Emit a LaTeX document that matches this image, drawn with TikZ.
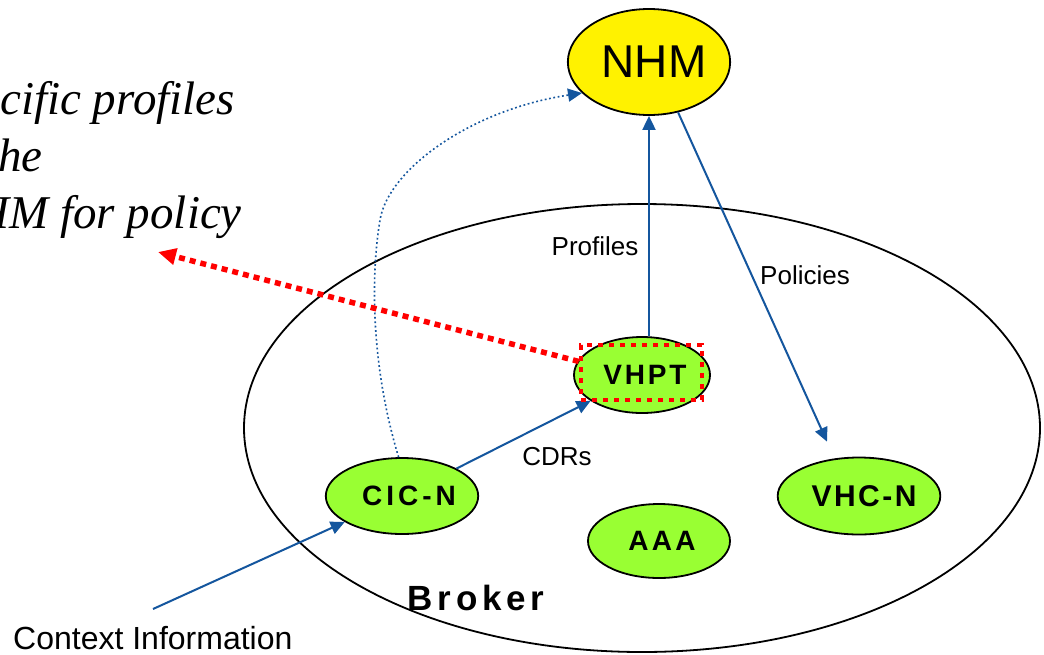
\documentclass[tikz,border=0pt]{standalone}
\usepackage{fontspec}
\setmainfont{Liberation Serif}
\setsansfont{Liberation Sans}
\usetikzlibrary{shapes.geometric,arrows.meta}
\definecolor{linkblue}{RGB}{20,86,158}
\definecolor{nodegreen}{RGB}{153,255,51}
% tracked capitals for the entity names
\newcommand\trk[1]{\kern#1}
\begin{document}
\begin{tikzpicture}[x=1pt,y=-1pt,
  entity/.style={ellipse, draw=black, line width=1.8pt, fill=nodegreen, inner sep=0pt},
  boldlbl/.style={font=\sffamily\bfseries\fontsize{28}{32}\selectfont},
  flow/.style={draw=linkblue, line width=2pt, -{Triangle[length=14pt,width=13pt]}},
  flowdotted/.style={flow, line width=1.6pt, dash pattern=on 1.8pt off 2.6pt},
  edgelbl/.style={font=\sffamily\fontsize{26}{30}\selectfont, anchor=base, inner sep=0pt},
  note/.style={font=\itshape\fontsize{47}{56}\selectfont, anchor=base east, inner sep=0pt},
  hint/.style={draw=red, line width=5.5pt, dash pattern=on 6pt off 5pt,
               -{Triangle[length=18pt,width=16pt,fill=red]}},
  hintbox/.style={draw=red, line width=4.5pt, dash pattern=on 5pt off 6pt,
                  inner sep=0pt, minimum width=121pt, minimum height=55pt}]
\path[use as bounding box, clip] (0,0) rectangle (1044,654);
\fill[white] (0,0) rectangle (1044,654);

% broker domain
\node[ellipse, draw=black, line width=1.8pt, inner sep=0pt,
      minimum width=796pt, minimum height=448pt] (broker) at (642,428) {};
\node[font=\sffamily\bfseries\fontsize{35}{40}\selectfont, anchor=base, inner sep=0pt]
  (brokerlbl) at (476,610) {B\trk{4.8pt}r\trk{4.8pt}o\trk{4.8pt}k\trk{4.8pt}e\trk{4.8pt}r};

% entities
\node[entity, fill=yellow, minimum width=152pt, minimum height=106pt,
      font=\sffamily\fontsize{46}{50}\selectfont] (NHM) at (649,62) {\hspace*{10pt}NHM};
\node[entity, minimum width=136pt, minimum height=76pt, boldlbl] (VHPT) at (642,375)
  {\hspace*{6pt}V\trk{2.8pt}H\trk{2.8pt}P\trk{2.8pt}T};
\node[entity, minimum width=137pt, minimum height=76pt, boldlbl] (CICN) at (402,496)
  {\hspace*{14pt}C\trk{4pt}I\trk{4pt}C\trk{4pt}-\trk{4pt}N};
\node[entity, minimum width=142pt, minimum height=74pt, boldlbl] (AAA) at (659,541)
  {\hspace*{6pt}A\trk{3.2pt}A\trk{3.2pt}A};
\node[entity, minimum width=122pt, minimum height=77pt,
      font=\sffamily\bfseries\fontsize{30}{34}\selectfont] (VHCN) at (859,496)
  {\hspace*{10pt}V\trk{2.5pt}H\trk{2.5pt}C\trk{2.5pt}-\trk{2.5pt}N};

% message flows
\coordinate (ctx) at (153,609);
\draw[flow] (ctx) -- (CICN);
\draw[flow] (CICN) -- (VHPT);
\draw[flow] (NHM.south |- VHPT.north) -- (NHM.south);
\draw[flow] (NHM.-60) -- ([shift={(-32,-15)}]VHCN.north);
\draw[flowdotted] (CICN.95) .. controls (372,370) and (370,280) .. (380,220)
  .. controls (388,170) and (470,110) .. ([shift={(-67,31)}]NHM.center);

% flow labels
\node[edgelbl] (lprof) at (595,255) {Profiles};
\node[edgelbl] (lpol) at (805,284) {Policies};
\node[edgelbl] (lcdr) at (557,465) {CDRs};
\node[font=\sffamily\fontsize{32}{36}\selectfont, anchor=base west, inner sep=0pt]
  (lctx) at (13,649) {Context Information};

% highlighted component and remark
\node[hintbox] (vrect) at (641.5,372.5) {};
\coordinate (hinttip) at (158,252);
\draw[hint] (vrect.170) -- (hinttip);

\node[note] (n1) at (235,114) {cific profiles};
\node[note] (n2) at (43,171) {he};
\node[note] (n3) at (242,228) {HM for policy};
\end{tikzpicture}
\end{document}
